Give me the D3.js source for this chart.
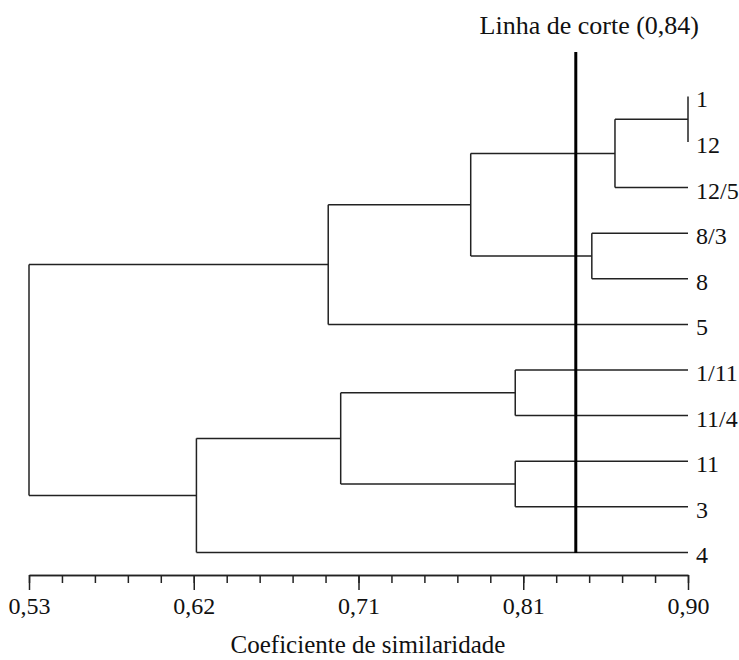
<!DOCTYPE html>
<html>
<head>
<meta charset="utf-8">
<script src="https://cdn.jsdelivr.net/npm/d3@7"></script>
<style>
  body { margin: 0; background: #fff; }
</style>
</head>
<body>
<div id="vis"></div>
<script>
// datos del dendrograma -------------------------------------------------
const LEAVES = ["1", "12", "12/5", "8/3", "8", "5", "1/11", "11/4", "11", "3", "4"];
const NODE_IDS = ["A", "B", "C", "D", "E", "F", "H", "G", "I", "R"];
const NODE_CHILDREN = [
  ["1", "12"], ["A", "12/5"], ["8/3", "8"], ["B", "C"], ["D", "5"],
  ["1/11", "11/4"], ["11", "3"], ["F", "H"], ["G", "4"], ["E", "I"]
];
const NODE_SIM = [0.90, 0.859, 0.846, 0.778, 0.698, 0.803, 0.803, 0.705, 0.624, 0.53];
const CUT = 0.837;
const TICKS_MAJOR = [0.53, 0.6225, 0.715, 0.8075, 0.90];
const TICK_LABELS = ["0,53", "0,62", "0,71", "0,81", "0,90"];

const FONT = "'Liberation Serif'";
const WIDTH = 739;
const HEIGHT = 660;
const SVG = d3.select("#vis").append("svg").attr("width", WIDTH).attr("height", HEIGHT);

const x = d3.scaleLinear().domain([0.53, 0.90]).range([29, 688]);
const yLeaf = d3.scalePoint().domain(LEAVES).range([96.4, 552.4]);

// posiciones de nodos
const pos = {};
LEAVES.forEach(l => pos[l] = { x: x(0.90), y: yLeaf(l) });
NODE_IDS.forEach((id, i) => {
  const ys = NODE_CHILDREN[i].map(c => pos[c].y);
  pos[id] = { x: x(NODE_SIM[i]), y: d3.mean(ys), ys: ys };
});

const g = SVG.append("g")
  .attr("fill", "none")
  .attr("stroke", "#222")
  .attr("stroke-width", 1.5);

NODE_IDS.forEach((id, i) => {
  const p = pos[id];
  g.append("line")
    .attr("x1", p.x).attr("x2", p.x)
    .attr("y1", d3.min(p.ys)).attr("y2", d3.max(p.ys));
  NODE_CHILDREN[i].forEach(c => {
    if (pos[c].x > p.x) {
      g.append("line")
        .attr("x1", p.x).attr("x2", pos[c].x)
        .attr("y1", pos[c].y).attr("y2", pos[c].y);
    }
  });
});

// etiquetas de hojas
SVG.append("g").selectAll("text")
  .data(LEAVES)
  .join("text")
  .attr("x", x(0.90) + 8)
  .attr("y", d => yLeaf(d) + 11)
  .style("font-family", FONT)
  .style("font-size", "24px")
  .attr("fill", "#111")
  .text(d => d);

// linea de corte
SVG.append("line")
  .attr("x1", x(CUT)).attr("x2", x(CUT))
  .attr("y1", 52).attr("y2", 553)
  .attr("stroke", "#000")
  .attr("stroke-width", 3);

SVG.append("text")
  .attr("x", 699)
  .attr("y", 34)
  .attr("text-anchor", "end")
  .style("font-family", FONT)
  .style("font-size", "26px")
  .attr("fill", "#111")
  .text("Linha de corte (0,84)");

// eje
const AXIS_Y = 575;
const minorTicks = d3.range(21).map(i => 0.53 + i * 0.37 / 20);

const axMinor = SVG.append("g")
  .attr("transform", `translate(0,${AXIS_Y})`)
  .call(d3.axisBottom(x).tickValues(minorTicks).tickSize(8).tickSizeOuter(0).tickFormat(""));

const axMajor = SVG.append("g")
  .attr("transform", `translate(0,${AXIS_Y})`)
  .call(d3.axisBottom(x).tickValues(TICKS_MAJOR).tickSize(15).tickSizeOuter(0)
    .tickPadding(7).tickFormat((d, i) => TICK_LABELS[i]));

[axMinor, axMajor].forEach(a => {
  a.selectAll("path, line").attr("stroke", "#222").attr("stroke-width", 1.5);
  a.selectAll("text")
    .style("font-family", FONT)
    .style("font-size", "24px")
    .attr("fill", "#111");
});

SVG.append("text")
  .attr("x", 368)
  .attr("y", 653)
  .attr("text-anchor", "middle")
  .style("font-family", FONT)
  .style("font-size", "25px")
  .attr("fill", "#111")
  .text("Coeficiente de similaridade");
</script>
</body>
</html>
